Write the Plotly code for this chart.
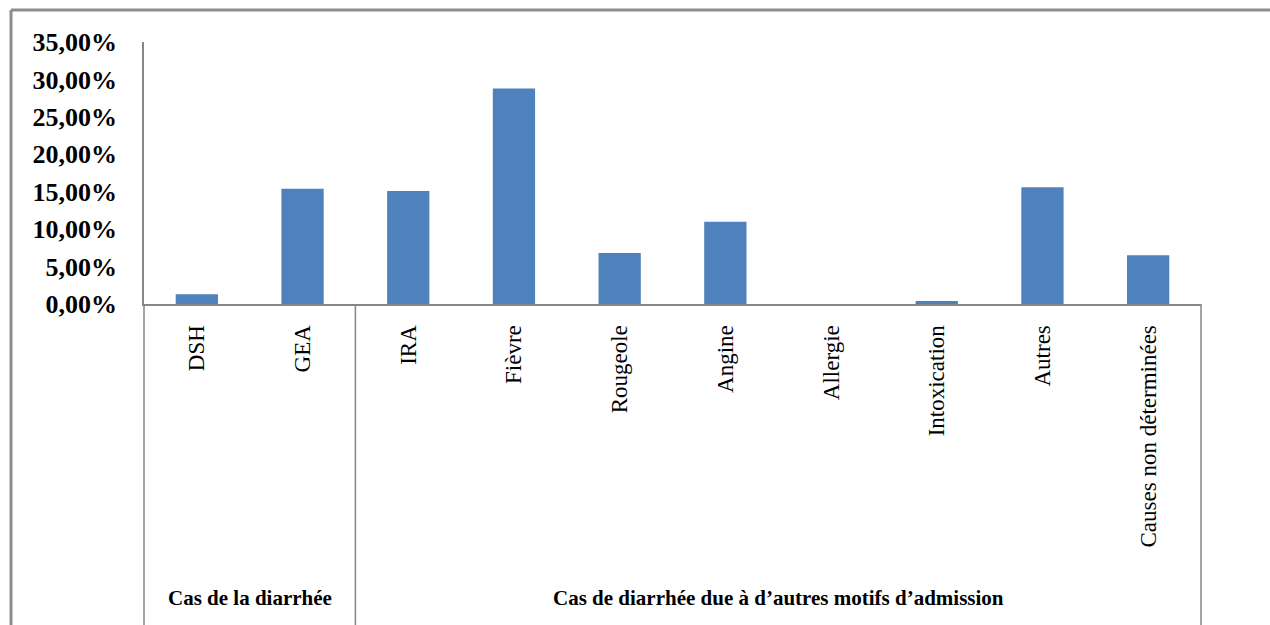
import plotly.graph_objects as go

# Share of admissions with diarrhoea, by reason for admission
categories = ["DSH", "GEA", "IRA", "Fièvre", "Rougeole", "Angine",
              "Allergie", "Intoxication", "Autres", "Causes non déterminées"]
shares = [0.013, 0.154, 0.151, 0.288, 0.068, 0.110, 0.0, 0.004, 0.156, 0.065]

groups = ["Cas de la diarrhée", "Cas de diarrhée due à d’autres motifs d’admission"]
group_sizes = [2, 8]

y_ticks = [0, 0.05, 0.10, 0.15, 0.20, 0.25, 0.30, 0.35]

BAR = "#4F81BD"
LINE = "#868686"
SERIF = "Liberation Serif"

W, H = 1270, 625
ML, MR, MT, MB = 144, 69, 42, 321
PW, PH = W - ML - MR, H - MT - MB


def px_x(px):
    return (px - ML) / PW


def px_y(py):
    return (H - MB - py) / PH


fig = go.Figure(
    go.Bar(
        x=categories,
        y=shares,
        width=0.4,
        marker=dict(color=BAR, line=dict(width=0)),
        hoverinfo="x+y",
    )
)

n = len(categories)
shapes = []
annotations = []

# group separators below the category axis
start = 0
bottom = px_y(H + 10)
for name, size in zip(groups, group_sizes):
    end = start + size
    shapes.append(dict(type="line", xref="paper", yref="paper",
                       x0=end / n, x1=end / n, y0=0, y1=bottom,
                       line=dict(color=LINE, width=1.5)))
    annotations.append(dict(xref="paper", yref="paper",
                            x=(start + size / 2) / n, y=px_y(598),
                            text=name, showarrow=False,
                            xanchor="center", yanchor="middle",
                            font=dict(family=SERIF, size=21, color="#000000",
                                      weight="bold")))
    start = end

# left axis line continued down through the category area
shapes.append(dict(type="line", xref="paper", yref="paper",
                   x0=0, x1=0, y0=0, y1=bottom,
                   line=dict(color=LINE, width=1.5)))

# chart frame (left and top edges)
fx, fy = px_x(11), px_y(10)
shapes.append(dict(type="line", xref="paper", yref="paper",
                   x0=fx, x1=fx, y0=bottom, y1=fy,
                   line=dict(color="#8c8c8c", width=3)))
shapes.append(dict(type="line", xref="paper", yref="paper",
                   x0=fx, x1=px_x(W + 10), y0=fy, y1=fy,
                   line=dict(color="#8c8c8c", width=3)))

fig.update_layout(
    width=W, height=H, autosize=False,
    margin=dict(l=ML, r=MR, t=MT, b=MB, pad=0),
    paper_bgcolor="white", plot_bgcolor="white",
    separators=", ",
    showlegend=False,
    bargap=0.6,
    shapes=shapes,
    annotations=annotations,
    xaxis=dict(
        type="category",
        range=[-0.5, n - 0.5],
        showline=True, linecolor=LINE, linewidth=2,
        showgrid=False, zeroline=False, ticks="",
        tickangle=-90,
        ticklabelstandoff=10,
        tickfont=dict(family=SERIF, size=23, color="#000000"),
    ),
    yaxis=dict(
        range=[0, 0.35],
        tickvals=y_ticks,
        tickformat=".2%",
        showline=True, linecolor=LINE, linewidth=1.5,
        showgrid=False, zeroline=False, ticks="",
        ticklabelstandoff=20,
        tickfont=dict(family=SERIF, size=26, color="#000000", weight="bold"),
    ),
)

fig.write_html("out.html")
